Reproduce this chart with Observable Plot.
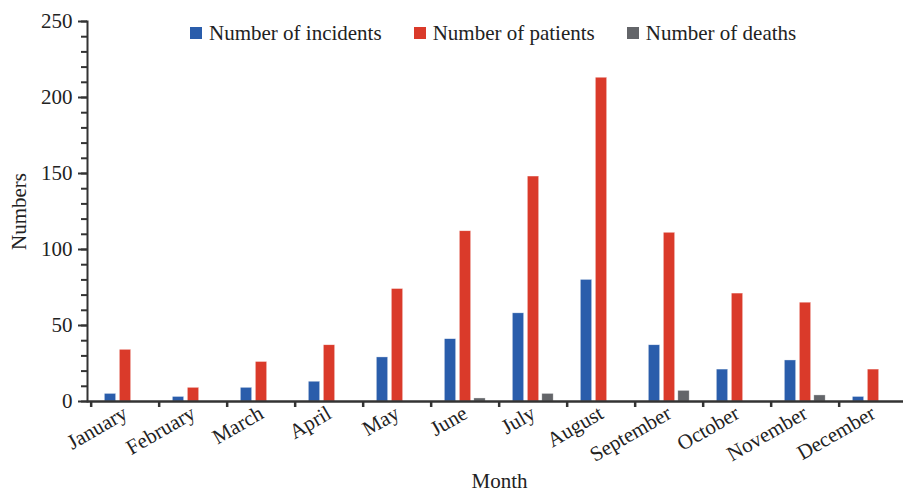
<!DOCTYPE html>
<html>
<head>
<meta charset="utf-8">
<script src="https://cdn.jsdelivr.net/npm/d3@7"></script>
<script src="https://cdn.jsdelivr.net/npm/@observablehq/plot@0.6"></script>
<style>
  html, body { margin: 0; padding: 0; background: #fff; overflow: hidden; }
  #wrap { position: relative; width: 903px; height: 491px; font-family: "Liberation Serif", "Times New Roman", serif; }
  #legend { position: absolute; top: 21px; left: 190px; display: flex; font-size: 21px; line-height: 24px; color: #222; }
  #legend .item { display: flex; align-items: center; margin-right: 32px; }
  #legend .sw { width: 12px; height: 12px; margin-right: 7px; }
</style>
</head>
<body>
<div id="wrap"><div id="legend"></div></div>
<script>
const months = ["January","February","March","April","May","June","July","August","September","October","November","December"];
const incidents = [5, 3, 9, 13, 29, 41, 58, 80, 37, 21, 27, 3];
const patients = [34, 9, 26, 37, 74, 112, 148, 213, 111, 71, 65, 21];
const deaths = [0, 0, 0, 0, 0, 2, 5, 0, 7, 0, 4, 0];
const seriesNames = ["Number of incidents", "Number of patients", "Number of deaths"];
const seriesColors = ["#2a5dab", "#da3a2a", "#636569"];
const yTicks = [0, 50, 100, 150, 200, 250];

const W = 903, H = 491, mL = 87, mR = -8, mT = 21, mB = 90;
const bw = (W - mR - mL) / months.length;
const barW = 12;
const inset = (bw - barW) / 2;
const offsets = [-15, 0, 14.5];

const seriesData = [incidents, patients, deaths].map((vals, s) =>
  months.map((m, i) => ({month: m, value: vals[i], series: seriesNames[s]})).filter(d => d.value > 0)
);

const barMarks = seriesData.map((data, s) =>
  Plot.barY(data, {
    x: "month", y: "value", fill: seriesColors[s],
    insetLeft: inset, insetRight: inset, dx: offsets[s],
    stroke: "#fff", strokeOpacity: 0.6, strokeWidth: 0.6
  })
);

const chart = Plot.plot({
  width: W, height: H,
  marginLeft: mL, marginRight: mR, marginTop: mT, marginBottom: mB,
  style: {fontFamily: "Liberation Serif, Times New Roman, serif", fontSize: "21px", color: "#222", background: "transparent"},
  x: {type: "band", domain: months, padding: 0},
  y: {domain: [0, 250]},
  marks: [
    ...barMarks,
    Plot.axisY({ticks: d3.range(0, 251, 10), tickSize: 6, text: null, stroke: "#333", strokeWidth: 2, label: null}),
    Plot.axisY({ticks: yTicks, tickSize: 9, tickPadding: 6, stroke: "#333", strokeWidth: 2, fill: "#222",
      label: "Numbers", labelAnchor: "center", labelArrow: "none", labelOffset: 76}),
    Plot.axisX({tickSize: 0, tickPadding: 10, tickRotate: -30, fill: "#222",
      label: "Month", labelAnchor: "center", labelArrow: "none", labelOffset: 86}),
    Plot.axisX({tickSize: 6, text: null, label: null, dx: -bw / 2, stroke: "#333", strokeWidth: 2.5}),
    Plot.frame({anchor: "left", stroke: "#333", strokeWidth: 2}),
    Plot.ruleY([0], {stroke: "#333", strokeWidth: 2.5})
  ]
});

document.getElementById("wrap").prepend(chart);
const legend = document.getElementById("legend");
seriesNames.forEach((n, i) => {
  const it = document.createElement("div");
  it.className = "item";
  const sw = document.createElement("span");
  sw.className = "sw";
  sw.style.background = seriesColors[i];
  const tx = document.createElement("span");
  tx.textContent = n;
  it.append(sw, tx);
  legend.append(it);
});
</script>
</body>
</html>
